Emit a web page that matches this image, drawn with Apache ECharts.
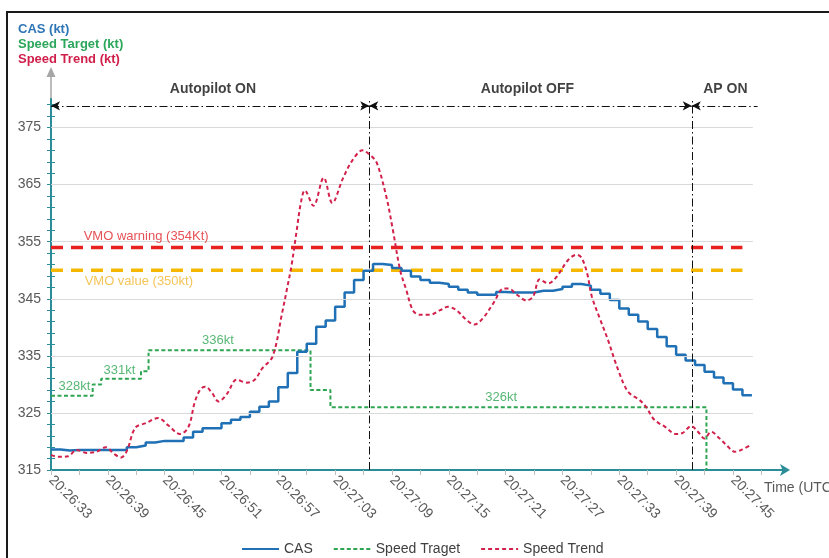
<!DOCTYPE html>
<html><head><meta charset="utf-8">
<script src="https://cdn.jsdelivr.net/npm/echarts@6/dist/echarts.min.js"></script>
<style>html,body{margin:0;padding:0;background:#fff}#c{width:829px;height:558px}</style>
</head><body><div id="c"></div>
<script>
// ---- data (time in seconds after 20:26:33) ----
const timeLabels = ['20:26:33','20:26:39','20:26:45','20:26:51','20:26:57','20:27:03','20:27:09','20:27:15','20:27:21','20:27:27','20:27:33','20:27:39','20:27:45'];
const labelSeconds = [0,6,12,18,24,30,36,42,48,54,60,66,72];
const yTickLabels = [315,325,335,345,355,365,375];
// CAS, one value per second from t=0
const casKt = [318.6,318.4,318.5,318.5,318.5,318.5,318.5,318.5,319.0,319.3,
  319.8,320.1,320.1,320.1,320.7,321.7,322.3,322.3,323.2,323.8,
  324.3,325.2,326.1,327.0,329.5,332.0,335.7,337.1,340.1,341.2,
  343.6,346.1,348.3,349.9,351.1,350.9,350.4,349.9,348.9,348.3,
  347.8,347.6,347.1,346.6,346.1,345.7,345.7,346.2,346.1,346.1,
  346.1,346.4,346.4,346.7,347.1,347.6,347.3,346.6,345.9,344.8,
  343.3,342.2,341.0,339.7,338.3,336.7,335.2,334.2,333.4,332.2,
  331.2,330.2,329.1,328.1,328.1];
// Speed target [sec, kt] (step)
const speedTarget = [[0,328],[4.4,330],[5.3,331],[9.5,332.3],[10.3,336],[27.4,329],[29.5,326],[69.2,315]];
// Speed trend [sec, kt]
const speedTrend = [[0,317.6],[0.8,317.3],[1.8,317.4],[2.7,318.5],[3.8,318.0],[4.8,318.2],[5.8,319.0],[6.6,317.9],[7.4,317.2],
  [8.0,318.3],[8.9,322.4],[10.0,323.2],[11.3,324.1],[12.4,322.8],[13.6,321.3],[14.5,322.5],[15.2,327.0],[15.8,329.2],[16.3,329.6],
  [17.0,328.5],[17.7,327.0],[18.6,328.4],[19.6,330.8],[20.7,330.3],[21.5,330.8],[22.3,332.8],[23.4,334.9],[24.4,342.5],[24.9,346.6],
  [25.4,350.9],[25.9,356.5],[26.4,362.0],[26.8,364.0],[27.7,361.3],[28.8,366.2],[29.7,361.8],[30.8,366.0],[31.8,369.2],[32.9,371.0],
  [33.8,370.0],[34.4,368.8],[35.4,362.9],[36.1,357.0],[36.85,350.1],[37.5,346.6],[38.2,343.0],[38.9,342.2],[40.0,342.2],[41.1,343.0],
  [41.9,343.6],[42.8,343.0],[43.8,341.4],[44.7,340.5],[45.6,341.6],[46.7,344.2],[47.8,346.8],[48.3,346.8],[49.2,345.7],[50.2,344.7],
  [50.9,345.4],[51.6,348.4],[52.5,347.7],[53.4,348.9],[54.6,351.8],[55.5,352.7],[56.0,352.2],[56.6,349.5],[57.1,345.4],[58.0,341.3],
  [58.8,337.8],[59.5,334.3],[60.0,332.0],[60.6,329.6],[61.1,328.4],[62.1,327.3],[62.8,326.1],[63.7,323.8],[64.8,322.6],[66.0,321.3],
  [66.7,321.5],[67.6,322.7],[68.3,321.7],[69.0,320.5],[69.7,321.7],[70.6,320.5],[71.3,319.4],[72.2,318.2],[73.0,318.6],[73.9,319.4]];
const vmoWarning = 354, vmoValue = 350;
const vmoEnd = 73.0;
const apOffSec = 33.6, apOnSec = 67.65, phaseEnd = 74.6;
const phaseNames = ['Autopilot ON','Autopilot OFF','AP ON'];
const targetLabels = ['328kt','331kt','336kt','326kt'];

// ---- styles ----
const SANS = "'Liberation Sans',Arial,sans-serif";
const C_CAS = '#1f70b5', C_TGT = '#2ea552', C_TRD = '#d2214b';
const C_AXIS = '#2a8d98', C_GRID = '#d9d9d9', C_TXT = '#595959';

const tickVals = []; for (let v = 0; v <= 75; v += 3) tickVals.push(v);
const yTickVals = []; for (let v = 315; v <= 379; v += 2) yTickVals.push(v);
const gridVals = yTickLabels.slice(1);

const chart = echarts.init(document.getElementById('c'), null, {renderer: 'canvas'});

const yBase = {
  type: 'value', min: 315, max: 380, position: 'left',
  splitLine: {show: false},
  axisTick: {show: true, customValues: yTickVals, length: 4, lineStyle: {color: C_AXIS, width: 1}}
};

const txt = (t, v, text, color, extra) => ({value: [t, v], label: Object.assign({formatter: text, color: color}, extra || {})});

const option = {
  animation: false,
  grid: {left: 51, right: 43, top: 99, bottom: 88, containLabel: false, outerBoundsMode: 'none'},
  legend: {
    data: ['CAS', 'Speed Traget', 'Speed Trend'],
    left: 236, top: 537, itemWidth: 37, itemHeight: 12, itemGap: 20,
    itemStyle: {opacity: 0},
    textStyle: {color: '#404040', fontSize: 14, fontFamily: SANS}
  },
  xAxis: {
    type: 'value', min: 0, max: 77.6,
    splitLine: {show: false},
    axisLine: {show: true, lineStyle: {color: C_AXIS, width: 2}, symbol: ['none', 'arrow'], symbolSize: [9, 10], symbolOffset: [0, 4]},
    axisTick: {show: true, customValues: tickVals, length: 5, lineStyle: {color: '#bfbfbf'}},
    axisLabel: {
      customValues: labelSeconds, rotate: -45, margin: 8,
      color: C_TXT, fontSize: 14, fontFamily: SANS,
      formatter: v => timeLabels[labelSeconds.indexOf(Math.round(v))] || ''
    }
  },
  yAxis: [
    Object.assign({}, yBase, {
      axisLine: {show: true, lineStyle: {color: C_AXIS, width: 2}},
      axisLabel: {customValues: yTickLabels, margin: 10, color: C_TXT, fontSize: 14, fontFamily: SANS}
    }),
    Object.assign({}, yBase, {
      axisLine: {show: false},
      axisLabel: {show: false},
      axisTick: {show: true, inside: true, customValues: yTickVals, length: 4, lineStyle: {color: C_AXIS, width: 1}}
    })
  ],
  series: [
    { // horizontal gridlines
      type: 'line', name: 'grid', data: [[0, 315]], symbol: 'none', silent: true, z: 1,
      lineStyle: {opacity: 0},
      markLine: {silent: true, symbol: 'none', label: {show: false},
        lineStyle: {color: C_GRID, width: 1, type: 'solid'},
        data: gridVals.map(v => [{coord: [0, v]}, {coord: [74.1, v]}])}
    },
    {type: 'line', name: 'vmoWarning', data: [[0, vmoWarning], [vmoEnd, vmoWarning]], symbol: 'none', silent: true, z: 2,
      lineStyle: {color: '#e8201e', width: 3.5, type: [12, 8]}},
    {type: 'line', name: 'vmoValue', data: [[0, vmoValue], [vmoEnd, vmoValue]], symbol: 'none', silent: true, z: 2,
      lineStyle: {color: '#f5b800', width: 3.5, type: [12, 8]}},
    {type: 'line', name: 'Speed Traget', data: speedTarget, step: 'end', symbol: 'none', z: 3,
      lineStyle: {color: C_TGT, width: 2, type: [4, 2.5]}, itemStyle: {color: C_TGT}},
    {type: 'line', name: 'CAS', data: casKt.map((v, i) => [i, v]), step: 'end', symbol: 'none', z: 4,
      lineStyle: {color: C_CAS, width: 2.5}, itemStyle: {color: C_CAS}},
    {type: 'line', name: 'Speed Trend', data: speedTrend, smooth: 0.35, symbol: 'none', z: 5,
      lineStyle: {color: C_TRD, width: 2, type: [4, 3]}, itemStyle: {color: C_TRD}},
    { // phase arrows and boundaries
      type: 'line', name: 'phases', data: [[0, 315]], symbol: 'none', silent: true, z: 6,
      lineStyle: {opacity: 0},
      markLine: {silent: true, symbol: ['arrow', 'arrow'], symbolSize: [7, 9], label: {show: false},
        lineStyle: {color: '#111', width: 1, type: [8, 3, 1.5, 3]},
        data: [
          [{coord: [0, 378.8]}, {coord: [apOffSec, 378.8]}],
          [{coord: [apOffSec, 378.8]}, {coord: [apOnSec, 378.8]}],
          [{coord: [apOnSec, 378.8], symbol: 'arrow'}, {coord: [phaseEnd, 378.8], symbol: 'none'}],
          [{coord: [apOffSec, 315], symbol: 'none'}, {coord: [apOffSec, 380], symbol: 'none'}],
          [{coord: [apOnSec, 315], symbol: 'none'}, {coord: [apOnSec, 380], symbol: 'none'}]
        ]}
    },
    { // annotations
      type: 'scatter', name: 'notes', symbolSize: 1, clip: false, silent: true, z: 7,
      itemStyle: {color: 'rgba(0,0,0,0)'},
      label: {show: true, position: 'right', distance: 0, fontSize: 13, fontFamily: SANS},
      data: [
        txt(3.4, 356.0, 'VMO warning (354Kt)', '#e0262b'),
        txt(3.5, 348.1, 'VMO value (350kt)', '#f0b52e'),
        txt(0.75, 329.7, targetLabels[0], C_TGT),
        txt(5.5, 332.5, targetLabels[1], C_TGT),
        txt(15.9, 337.7, targetLabels[2], C_TGT),
        txt(45.8, 327.7, targetLabels[3], C_TGT),
        txt(17.1, 381.7, phaseNames[0], '#111', {position: 'inside', fontWeight: 'bold', fontSize: 14}),
        txt(50.3, 381.7, phaseNames[1], '#111', {position: 'inside', fontWeight: 'bold', fontSize: 14}),
        txt(71.2, 381.7, phaseNames[2], '#111', {position: 'inside', fontWeight: 'bold', fontSize: 14})
      ]
    }
  ],
  graphic: [
    {type: 'rect', shape: {x: 7, y: 12, width: 900, height: 600}, style: {fill: 'none', stroke: '#1a1a1a', lineWidth: 2}, silent: true},
    {type: 'text', x: 18, y: 29, style: {text: 'CAS (kt)', fill: '#2e75b6', font: "bold 13px " + SANS, textVerticalAlign: 'middle'}},
    {type: 'text', x: 18, y: 44, style: {text: 'Speed Target (kt)', fill: '#2ba65a', font: "bold 13px " + SANS, textVerticalAlign: 'middle'}},
    {type: 'text', x: 18, y: 59, style: {text: 'Speed Trend (kt)', fill: '#d01f4a', font: "bold 13px " + SANS, textVerticalAlign: 'middle'}},
    {type: 'line', shape: {x1: 51, y1: 99, x2: 51, y2: 74}, style: {stroke: '#a6a6a6', lineWidth: 1.5}, silent: true},
    {type: 'polygon', shape: {points: [[51, 67], [46.5, 77], [55.5, 77]]}, style: {fill: '#a6a6a6'}, silent: true},
    {type: 'text', x: 764, y: 488, style: {text: 'Time (UTC)', fill: C_TXT, font: "14px " + SANS, textVerticalAlign: 'middle'}}
  ]
};
chart.setOption(option);
</script>
</body></html>
